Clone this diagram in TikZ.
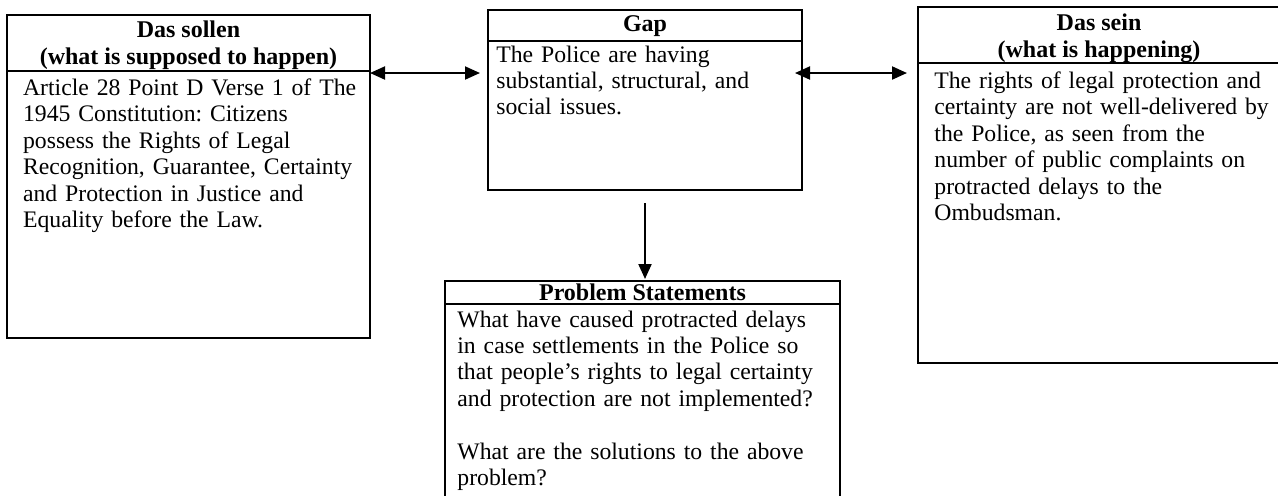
\documentclass[tikz,border=0pt]{standalone}
\usepackage{fontspec}
\setmainfont{Liberation Serif}
\usetikzlibrary{arrows.meta}
\begin{document}
\begin{tikzpicture}[x=0.5pt,y=-0.5pt,
  box/.style={draw, line width=1pt, anchor=north west, inner sep=0pt, outer sep=0pt},
  hd/.style={inner sep=0pt, font=\fontsize{12}{13.2}\selectfont\bfseries\frenchspacing, align=center, anchor=base},
  bd/.style={inner sep=0pt, font=\fontsize{11.85}{13.2}\selectfont\frenchspacing, align=left, anchor=base west, text width=#1},
  conn/.style={line width=1pt, {Triangle[length=7.5pt,width=6.5pt]}-{Triangle[length=7.5pt,width=6.5pt]}},
  down/.style={line width=1pt, -{Triangle[length=7.5pt,width=6.5pt]}}
]
\useasboundingbox (0,0) rectangle (1278,495);
% boxes
\node[box, minimum width=181.5pt, minimum height=28pt] (sollenH) at (7,15) {};
\node[box, minimum width=181.5pt, minimum height=133.5pt] (sollenB) at (sollenH.south west) {};
\node[box, minimum width=157pt, minimum height=15.5pt] (gapH) at (488,10) {};
\node[box, minimum width=157pt, minimum height=74.5pt] (gapB) at (gapH.south west) {};
\node[box, minimum width=181pt, minimum height=28pt] (seinH) at (918,7) {};
\node[box, minimum width=181pt, minimum height=150pt] (seinB) at (seinH.south west) {};
\node[box, minimum width=197.5pt, minimum height=11.5pt] (probH) at (445,281) {};
\node[box, minimum width=197.5pt, minimum height=120pt] (probB) at (probH.south west) {};
% texts (base anchor = baseline of the last line for headers)
\node[hd] (sollenT) at (188.5,64) {Das sollen\\(what is supposed to happen)};
\node[bd=175pt] (sollenX) at (22.7,95.5) {Article 28 Point D Verse 1 of The\\1945 Constitution: Citizens\\possess the Rights of Legal\\Recognition, Guarantee, Certainty\\and Protection in Justice and\\Equality before the Law.};
\node[hd] (gapT) at (645,31) {Gap};
\node[bd=150pt] (gapX) at (496,62) {The Police are having\\substantial, structural, and\\social issues.};
\node[hd] (seinT) at (1099,57) {Das sein\\(what is happening)};
\node[bd=175pt] (seinX) at (934,88.5) {The rights of legal protection and\\certainty are not well-delivered by\\the Police, as seen from the\\number of public complaints on\\protracted delays to the\\Ombudsman.};
\node[hd] (probT) at (642.5,300) {Problem Statements};
\node[bd=190pt] (probX) at (457,327) {What have caused protracted delays\\in case settlements in the Police so\\that people’s rights to legal certainty\\and protection are not implemented?\\[13.2pt]What are the solutions to the above\\problem?};
% connectors
\coordinate (ay) at (0,73);
\draw[conn, shorten >=4pt] (sollenB.east |- ay) -- (gapB.west |- ay);
\draw[conn, shorten <=-3.5pt, shorten >=5.5pt] (gapB.east |- ay) -- (seinB.west |- ay);
\draw[down, shorten <=6.5pt, shorten >=1pt] (gapB.south) -- (gapB.south |- probH.north);
\end{tikzpicture}
\end{document}
